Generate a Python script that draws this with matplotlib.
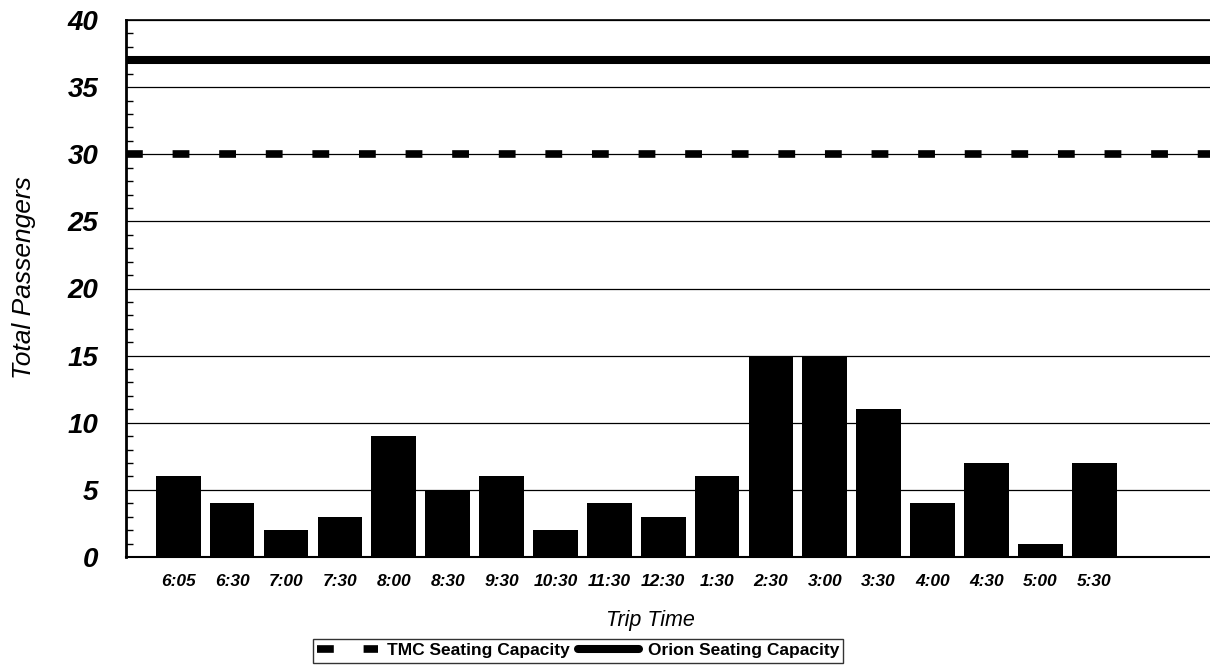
import matplotlib
matplotlib.use("Agg")
import matplotlib.pyplot as plt
from matplotlib.ticker import MultipleLocator

plt.rcParams['font.family'] = ['Liberation Sans', 'DejaVu Sans']

# Data
trip_times = ["6:05", "6:30", "7:00", "7:30", "8:00", "8:30", "9:30", "10:30", "11:30",
              "12:30", "1:30", "2:30", "3:00", "3:30", "4:00", "4:30", "5:00", "5:30"]
passengers = [6, 4, 2, 3, 9, 5, 6, 2, 4, 3, 6, 15, 15, 11, 4, 7, 1, 7]
tmc_capacity = 30
orion_capacity = 37

fig = plt.figure(figsize=(12.1, 6.65), dpi=100)
ax = fig.add_axes([126 / 1210, 1 - 557 / 665, 1 - 126 / 1210, (557 - 20) / 665])

x = list(range(len(trip_times)))
ax.bar(x, passengers, width=0.83, color='black', zorder=3)

# horizontal grid lines
ax.set_ylim(0, 40)
ax.set_xlim(-0.97, 19.15)
ax.yaxis.set_major_locator(MultipleLocator(5))
ax.yaxis.set_minor_locator(MultipleLocator(1))
ax.grid(axis='y', which='major', color='black', linewidth=0.9, zorder=1)
ax.set_axisbelow(True)

# capacity lines
tmc = ax.axhline(tmc_capacity, color='black', linewidth=5.5, linestyle=(0, (2.2, 3.9)),
                 dash_capstyle='butt', zorder=4, label='TMC Seating Capacity')
orion = ax.axhline(orion_capacity, color='black', linewidth=5.8, solid_capstyle='round',
                   zorder=4, label='Orion Seating Capacity')

# spines
ax.spines['right'].set_visible(False)
ax.spines['left'].set_linewidth(2.0)
ax.spines['bottom'].set_linewidth(1.5)
ax.spines['top'].set_linewidth(1.2)

ax.tick_params(axis='y', which='major', length=0, pad=20)
ax.tick_params(axis='y', which='minor', direction='in', length=5, width=1.0)
ax.tick_params(axis='x', length=0, pad=12)

ax.set_xticks(x)
ax.set_xticklabels(trip_times, fontsize=12.5, fontweight='bold', fontstyle='italic')
for lab in ax.get_yticklabels():
    lab.set_fontsize(20)
    lab.set_fontweight('bold')
    lab.set_fontstyle('italic')

ax.set_xlabel("Trip Time", fontsize=15.5, fontstyle='italic')
ax.xaxis.set_label_coords(0.484, -0.099)
ax.set_ylabel("Total Passengers", fontsize=19, fontstyle='italic')
ax.yaxis.set_label_coords(-0.083, 0.52)

leg = fig.legend(handles=[tmc, orion], loc='upper left', bbox_to_anchor=(313 / 1210, 1 - 639 / 665),
                 ncol=2, frameon=True, fancybox=False, edgecolor='black', fontsize=12.5,
                 handlelength=3.5, handletextpad=0.5, columnspacing=0.5, borderpad=0.25,
                 borderaxespad=0)
leg.get_frame().set_linewidth(1.0)
for t in leg.get_texts():
    t.set_fontweight('bold')

fig.savefig("out.png", dpi=100)
